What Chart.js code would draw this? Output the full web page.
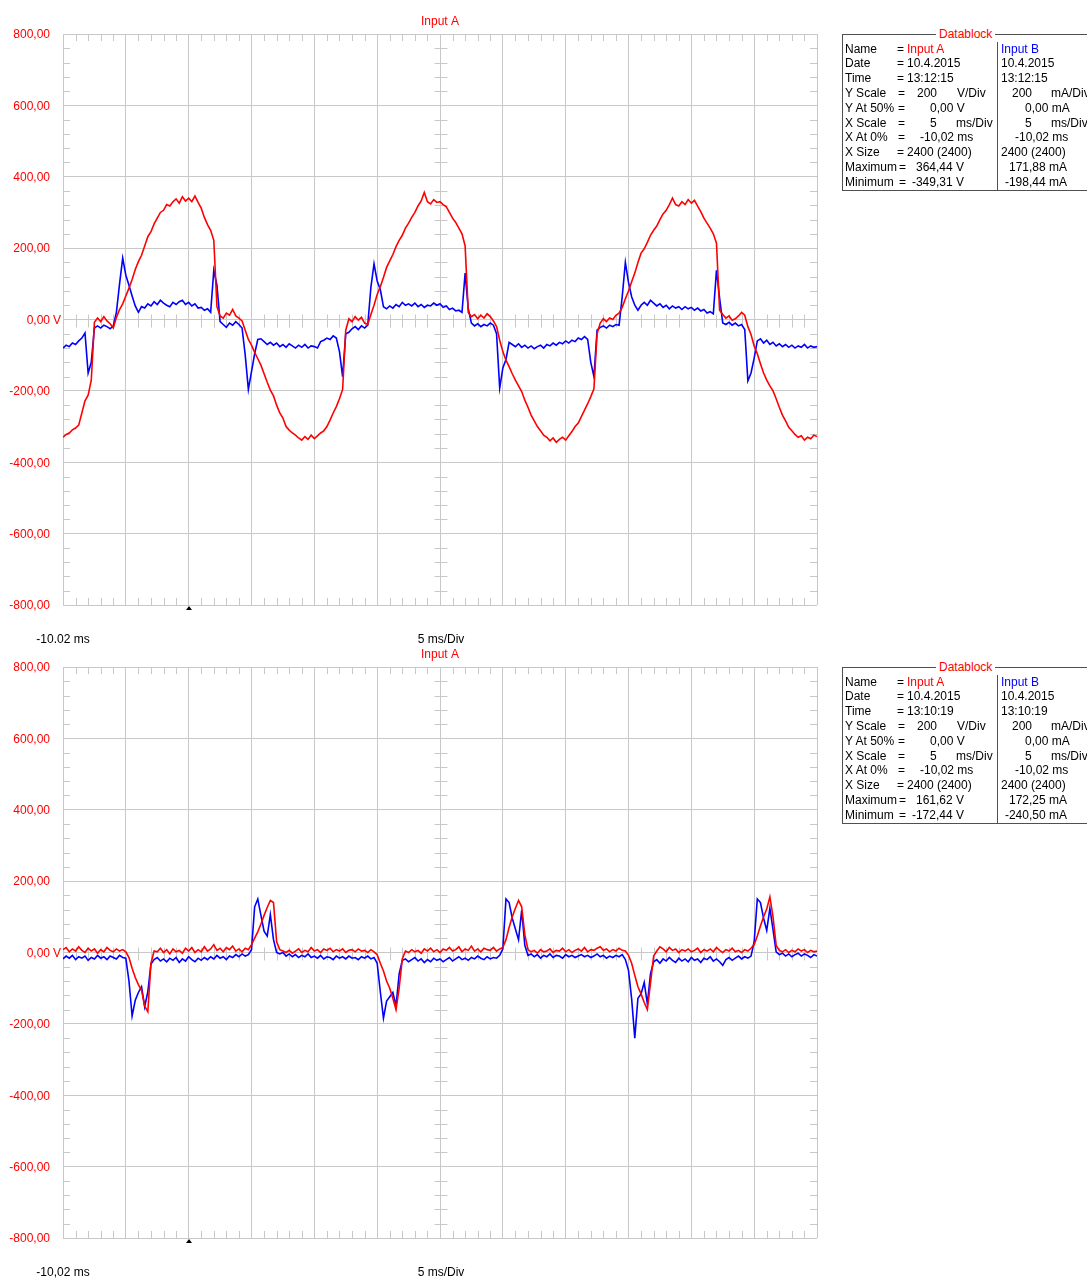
<!DOCTYPE html>
<html>
<head>
<meta charset="utf-8">
<script src="https://cdn.jsdelivr.net/npm/chart.js@4.4.1/dist/chart.umd.min.js"></script>
<style>
  html, body { margin: 0; padding: 0; background: #ffffff; }
  body { width: 1087px; height: 1279px; position: relative; overflow: hidden;
         font: 12px "Liberation Sans", Arial, sans-serif; }
  canvas { position: absolute; left: 0; }
  .t { position: absolute; white-space: nowrap; line-height: 14px; color: #000; }
  .box { position: absolute; left: 842px; width: 262px; height: 155px; border: 1px solid #505050; }
  .sep { position: absolute; left: 997px; width: 0; height: 148px; border-left: 1px solid #505050; }
  .legend { position: absolute; background: #fff; color: #ff0000; padding: 0 3px; line-height: 14px; }
</style>
</head>
<body>
<canvas id="scope1" width="1087" height="646" style="top:0px"></canvas>
<canvas id="scope2" width="1087" height="646" style="top:633px"></canvas>
<script>
// Time base: 2400 samples over 12 divisions of 5 ms, starting at -10.02 ms.
// Traces below are read at every 0.25 ms.
const T0 = -10.02;
const DT = 0.25;
const X_MIN = -10.02;
const X_MAX = 49.98;
const X_DIVS = [-10.02, -5.02, -0.02, 4.98, 9.98, 14.98, 19.98, 24.98, 29.98, 34.98, 39.98, 44.98, 49.98];
const Y_TICKS = [-800, -600, -400, -200, 0, 200, 400, 600, 800];

// Capture 1 (13:12:15) — Input A in V, Input B in mA
const inputA_1 = [
  -330,-322,-318,-309,-304,-296,-262,-228,-212,-170,
  -8,4,-6,8,-4,-12,-24,6,28,44,
  66,88,112,140,162,180,206,232,246,268,
  284,300,306,322,318,330,338,326,344,332,
  340,330,346,328,312,286,266,250,222,36,
  10,4,18,12,28,10,4,-4,-30,-56,
  -72,-92,-110,-128,-152,-176,-198,-214,-240,-262,
  -276,-300,-310,-318,-324,-332,-338,-328,-336,-324,
  -334,-326,-318,-312,-300,-282,-262,-244,-222,-196,
  -30,2,-6,8,-2,6,-10,-14,14,40,
  70,92,118,146,164,182,204,222,236,256,
  270,286,300,318,332,356,330,324,336,328,
  330,322,316,300,284,272,256,240,206,20,
  8,14,2,12,4,16,8,-4,-20,-58,
  -90,-114,-132,-152,-170,-186,-202,-226,-246,-268,
  -284,-300,-312,-324,-330,-340,-332,-344,-336,-330,
  -338,-326,-314,-300,-290,-272,-254,-236,-216,-194,
  -40,-10,2,-6,4,0,12,18,34,58,
  80,106,130,160,186,198,216,236,250,262,
  280,296,306,322,340,322,318,330,322,336,
  326,334,318,302,284,270,256,240,214,26,
  14,4,10,-2,2,10,20,12,-20,-42,
  -74,-96,-124,-150,-170,-186,-200,-222,-246,-268,
  -284,-302,-312,-322,-330,-326,-338,-330,-334,-324,
  -328
];
const inputB_1 = [
  -80,-72,-76,-66,-70,-60,-52,-38,-150,-120,
  -24,-18,-24,-16,-20,-26,-18,20,100,172,
  124,96,66,38,20,36,32,44,38,50,
  42,54,46,40,36,48,42,50,54,42,
  48,38,44,32,34,26,30,20,138,96,
  -6,-14,-22,-10,-16,-6,-14,-24,-100,-196,
  -146,-96,-56,-54,-62,-70,-64,-72,-66,-76,
  -70,-78,-68,-74,-80,-72,-78,-70,-80,-74,
  -76,-80,-62,-58,-52,-56,-46,-52,-90,-160,
  -40,-36,-26,-20,-28,-18,-24,-16,90,156,
  108,84,36,30,38,32,42,36,48,40,
  44,38,46,36,42,34,40,38,46,40,
  44,34,38,28,32,24,26,20,130,30,
  -10,-18,-12,-20,-14,-18,-10,-16,-40,-192,
  -136,-112,-64,-70,-76,-68,-78,-72,-80,-74,
  -82,-76,-72,-80,-70,-74,-66,-72,-64,-68,
  -60,-66,-58,-62,-52,-56,-48,-56,-120,-160,
  -30,-22,-18,-24,-16,-20,-14,-16,64,160,
  104,64,40,26,40,48,40,54,46,38,
  44,34,40,30,38,32,36,28,36,30,
  34,26,32,24,28,18,22,16,138,60,
  -10,-14,-8,-16,-10,-18,-14,-28,-172,-150,
  -108,-60,-54,-66,-58,-70,-64,-74,-68,-76,
  -70,-78,-72,-80,-74,-78,-70,-80,-74,-78,
  -76
];

// Capture 2 (13:10:19) — Input A in V, Input B in mA
const inputA_2 = [
  8,14,2,10,4,16,6,0,12,4,
  10,-2,8,2,14,6,2,10,4,8,
  2,-14,-44,-70,-90,-106,-150,-166,-30,4,
  2,12,0,8,-4,10,2,6,-2,12,
  4,14,0,8,2,16,4,10,22,6,
  12,2,14,8,18,4,10,2,12,8,
  22,40,58,80,104,126,146,140,30,8,
  4,0,6,-2,4,10,0,6,2,14,
  4,8,0,10,6,12,2,8,4,10,
  0,6,8,2,10,4,6,0,8,2,
  -6,-30,-52,-80,-100,-128,-160,-100,-18,4,
  0,8,2,6,-2,10,4,12,2,8,
  0,10,6,14,4,8,16,2,10,6,
  18,4,10,2,12,8,6,14,4,10,
  14,36,70,100,124,146,128,50,8,2,
  6,-2,8,2,4,10,0,6,4,12,
  2,8,0,6,10,4,14,2,8,6,
  12,16,6,10,2,8,4,12,6,4,
  -8,-30,-64,-96,-116,-140,-160,-86,-10,4,
  16,10,2,14,6,10,0,8,4,10,
  2,6,12,0,8,4,10,2,14,6,
  0,8,4,12,2,6,0,8,4,12,
  22,46,74,100,122,156,100,20,6,2,
  8,0,6,2,10,4,8,0,6,2,
  4
];
const inputB_2 = [
  -18,-10,-16,-8,-20,-12,-16,-10,-22,-14,
  -18,-8,-16,-12,-20,-10,-14,-18,-8,-14,
  -16,-80,-178,-134,-112,-96,-152,-110,-32,-20,
  -14,-24,-18,-26,-16,-22,-14,-28,-18,-24,
  -12,-20,-26,-16,-22,-14,-20,-12,-18,-8,
  -16,-12,-20,-10,-14,-6,-12,-4,-10,-6,
  8,128,150,104,60,46,106,36,0,-4,
  0,-10,-4,-12,-6,-14,-8,-12,-4,-14,
  -10,-16,-8,-18,-12,-14,-20,-10,-16,-12,
  -18,-10,-16,-14,-20,-12,-16,-10,-18,-14,
  -30,-110,-184,-136,-124,-112,-150,-60,-22,-18,
  -26,-20,-14,-24,-18,-28,-20,-26,-16,-22,
  -18,-26,-20,-14,-24,-18,-12,-20,-16,-22,
  -14,-18,-10,-16,-20,-12,-18,-14,-16,-8,
  10,150,140,96,66,36,118,20,-8,-4,
  -12,-6,-16,-8,-12,-4,-14,-8,-10,-16,
  -6,-12,-8,-14,-10,-6,-12,-8,-14,-10,
  -4,-12,-8,-16,-10,-14,-8,-12,-6,-20,
  -50,-130,-240,-128,-116,-84,-144,-60,-26,-20,
  -30,-18,-24,-14,-22,-28,-16,-24,-18,-26,
  -14,-22,-18,-28,-16,-20,-12,-24,-18,-26,
  -36,-20,-14,-22,-16,-10,-18,-12,-16,-10,
  30,150,140,96,62,124,64,2,-6,-2,
  -10,-4,-12,-6,-2,-10,-4,-8,-14,-6,
  -10
];

// Datablock contents
const captures = [
  { time: '13:12:15', maxA: '364,44 V', minA: '-349,31 V', maxB: '171,88 mA', minB: '-198,44 mA' },
  { time: '13:10:19', maxA: '161,62 V', minA: '-172,44 V', maxB: '172,25 mA', minB: '-240,50 mA' }
];

const FONT = '"Liberation Sans", Arial, sans-serif';
const GRID = '#c8c8c8';
const RED = '#ff0000';
const BLUE = '#0000ff';

const toPoints = arr => arr.map((v, i) => ({ x: T0 + i * DT, y: v }));
const fmtVolts = v => (v === 0 ? '0,00' : v.toFixed(2).replace('.', ','));

// Minor division marks, unit suffix, time base captions and trigger marker
const scopeDecor = {
  id: 'scopeDecor',
  beforeDatasetsDraw(chart) {
    const { ctx, chartArea: a, scales: { x, y } } = chart;
    ctx.save();
    ctx.strokeStyle = GRID;
    ctx.lineWidth = 1;
    ctx.beginPath();
    const y0 = Math.round(y.getPixelForValue(0)) + 0.5;
    const xc = Math.round(x.getPixelForValue(X_MIN + 30)) + 0.5;
    for (let k = 1; k < 60; k++) {
      if (k % 5 === 0) continue;
      const px = Math.round(x.getPixelForValue(X_MIN + k)) + 0.5;
      ctx.moveTo(px, a.top); ctx.lineTo(px, a.top + 7);
      ctx.moveTo(px, a.bottom); ctx.lineTo(px, a.bottom - 7);
      ctx.moveTo(px, y0 - 6); ctx.lineTo(px, y0 + 7);
    }
    for (let k = 1; k < 40; k++) {
      if (k % 5 === 0) continue;
      const py = Math.round(y.getPixelForValue(-800 + 40 * k)) + 0.5;
      ctx.moveTo(a.left, py); ctx.lineTo(a.left + 7, py);
      ctx.moveTo(a.right, py); ctx.lineTo(a.right - 7, py);
      ctx.moveTo(xc - 6, py); ctx.lineTo(xc + 7, py);
    }
    ctx.stroke();
    ctx.restore();
  },
  afterDraw(chart, args, opts) {
    const { ctx, chartArea: a, scales: { x, y } } = chart;
    ctx.save();
    ctx.font = '12px ' + FONT;
    ctx.textBaseline = 'middle';
    // unit after the zero label
    ctx.fillStyle = RED;
    ctx.textAlign = 'left';
    ctx.fillText('V', a.left - 10, y.getPixelForValue(0) + 1);
    // time base captions
    ctx.fillStyle = '#000';
    ctx.textAlign = 'center';
    ctx.fillText(opts.startLabel, a.left, a.bottom + 35);
    ctx.fillText('5 ms/Div', (a.left + a.right) / 2 + 1, a.bottom + 35);
    // trigger marker at t = 0
    const tx = Math.round(x.getPixelForValue(0));
    ctx.beginPath();
    ctx.moveTo(tx - 3, a.bottom + 5);
    ctx.lineTo(tx + 3, a.bottom + 5);
    ctx.lineTo(tx, a.bottom + 1);
    ctx.closePath();
    ctx.fill();
    ctx.restore();
  }
};

function scopeChart(id, seriesA, seriesB, startLabel) {
  return new Chart(document.getElementById(id), {
    type: 'line',
    data: {
      datasets: [
        { label: 'Input A', data: toPoints(seriesA), borderColor: RED, borderWidth: 1.6,
          pointRadius: 0, tension: 0, fill: false },
        { label: 'Input B', data: toPoints(seriesB), borderColor: BLUE, borderWidth: 1.6,
          pointRadius: 0, tension: 0, fill: false }
      ]
    },
    options: {
      responsive: false,
      animation: false,
      devicePixelRatio: 1,
      layout: { padding: { left: 0, right: 270, top: 0, bottom: 0 } },
      plugins: {
        legend: { display: false },
        tooltip: { enabled: false },
        title: {
          display: true, text: 'Input A', color: RED, fullSize: false,
          font: { family: FONT, size: 12, weight: 'normal' },
          padding: { top: 14.8, bottom: 4.8 }
        },
        scopeDecor: { startLabel }
      },
      scales: {
        x: {
          type: 'linear', min: X_MIN, max: X_MAX,
          afterBuildTicks: s => { s.ticks = X_DIVS.map(v => ({ value: v })); },
          afterFit: s => { s.height = 41; },
          ticks: { display: false },
          grid: { color: GRID, lineWidth: 1, drawTicks: false },
          border: { display: false }
        },
        y: {
          type: 'linear', min: -800, max: 800,
          afterBuildTicks: s => { s.ticks = Y_TICKS.map(v => ({ value: v })); },
          afterFit: s => { s.width = 63; },
          ticks: { color: RED, padding: 13, labelOffset: 1, font: { family: FONT, size: 12 },
                   callback: v => fmtVolts(v) },
          grid: { color: GRID, lineWidth: 1, drawTicks: false },
          border: { display: false }
        }
      }
    },
    plugins: [scopeDecor]
  });
}

scopeChart('scope1', inputA_1, inputB_1, '-10.02 ms');
scopeChart('scope2', inputA_2, inputB_2, '-10,02 ms');

// Datablock panels beside each capture
function put(text, x, yc, color, alignRight) {
  const d = document.createElement('div');
  d.className = 't';
  d.textContent = text;
  d.style.left = x + 'px';
  d.style.top = (yc - 7) + 'px';
  if (color) d.style.color = color;
  if (alignRight) d.style.transform = 'translateX(-100%)';
  document.body.appendChild(d);
}

captures.forEach((c, n) => {
  const off = n * 633;
  const box = document.createElement('div');
  box.className = 'box';
  box.style.top = (34 + off) + 'px';
  document.body.appendChild(box);
  const sep = document.createElement('div');
  sep.className = 'sep';
  sep.style.top = (42 + off) + 'px';
  document.body.appendChild(sep);
  const lg = document.createElement('div');
  lg.className = 'legend';
  lg.textContent = 'Datablock';
  lg.style.left = '936px';
  lg.style.top = (27 + off) + 'px';
  document.body.appendChild(lg);

  const rows = [
    [['Name', 845], ['=', 897], ['Input A', 907, RED], ['Input B', 1001, BLUE]],
    [['Date', 845], ['=', 897], ['10.4.2015', 907], ['10.4.2015', 1001]],
    [['Time', 845], ['=', 897], [c.time, 907], [c.time, 1001]],
    [['Y Scale', 845], ['=', 898], ['200', 917], ['V/Div', 957], ['200', 1012], ['mA/Div', 1051]],
    [['Y At 50%', 845], ['=', 898], ['0,00 V', 930], ['0,00 mA', 1025]],
    [['X Scale', 845], ['=', 898], ['5', 930], ['ms/Div', 956], ['5', 1025], ['ms/Div', 1051]],
    [['X At 0%', 845], ['=', 898], ['-10,02 ms', 920], ['-10,02 ms', 1015]],
    [['X Size', 845], ['=', 897], ['2400 (2400)', 907], ['2400 (2400)', 1001]],
    [['Maximum', 845], ['=', 899], [c.maxA, 964, null, true], [c.maxB, 1067, null, true]],
    [['Minimum', 845], ['=', 899], [c.minA, 964, null, true], [c.minB, 1067, null, true]]
  ];
  rows.forEach((row, r) => {
    const yc = 48.5 + r * 14.8 + off;
    row.forEach(([text, x, color, right]) => put(text, x, yc, color, right));
  });
});
</script>
</body>
</html>
